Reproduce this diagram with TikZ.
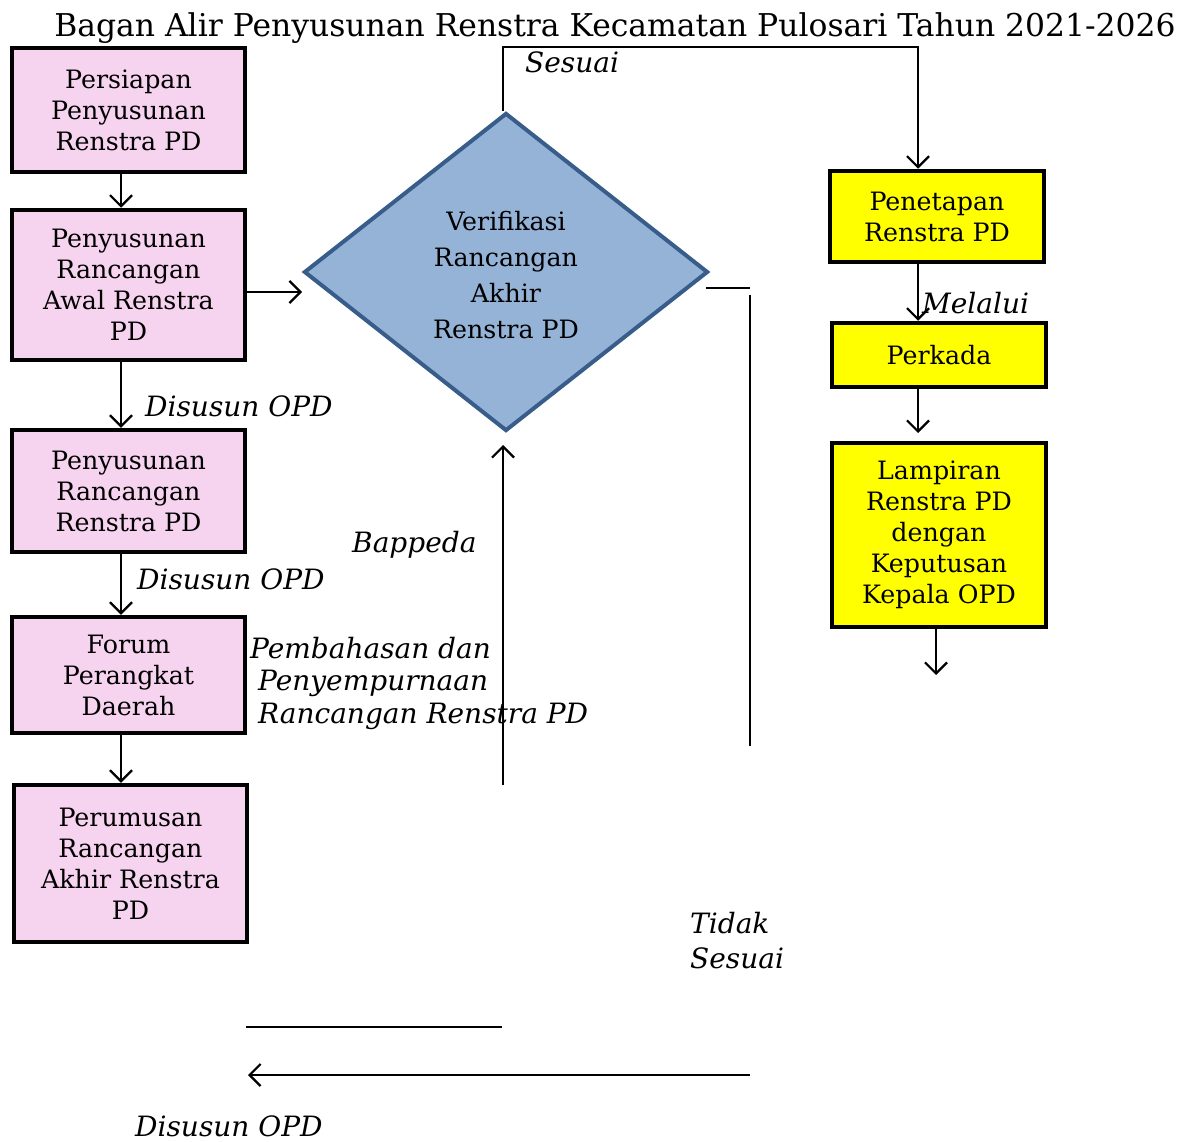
\documentclass[tikz,border=0pt]{standalone}
\usepackage{fontspec}
\setmainfont{DejaVu Serif}
\usetikzlibrary{arrows.meta,shapes.geometric}
\definecolor{pinkfill}{HTML}{F6D3EE}
\definecolor{diafill}{HTML}{95B3D7}
\definecolor{diaedge}{HTML}{385D8A}
\definecolor{yel}{HTML}{FFFF00}
\tikzset{
  pinkbox/.style={draw=black,line width=4.5pt,fill=pinkfill,inner sep=0pt,align=center,font=\fontsize{25.3}{31}\selectfont},
  yelbox/.style={draw=black,line width=4.5pt,fill=yel,inner sep=0pt,align=center,font=\fontsize{25.3}{31}\selectfont},
  lbl/.style={font=\fontsize{28}{35}\selectfont\itshape,inner sep=0pt,anchor=west,align=left},
  conn/.style={line width=2.2pt,-{Straight Barb[length=11pt,width=22pt,line width=2.2pt]}},
  plain/.style={line width=2.2pt}
}
\begin{document}
\begin{tikzpicture}[x=1pt,y=-1pt]
\useasboundingbox (0,0) rectangle (1184,1142);
\node[inner sep=0pt,font=\fontsize{31.4}{36}\selectfont] (title) at (615,28) {Bagan Alir Penyusunan Renstra Kecamatan Pulosari Tahun 2021-2026};
% pink boxes
\node[pinkbox,minimum width=233pt,minimum height=124pt] (b1) at (128.5,110) {Persiapan\\Penyusunan\\Renstra PD};
\node[pinkbox,minimum width=233pt,minimum height=150pt] (b2) at (128.5,285) {Penyusunan\\Rancangan\\Awal Renstra\\PD};
\node[pinkbox,minimum width=233pt,minimum height=122pt] (b3) at (128.5,491) {Penyusunan\\Rancangan\\Renstra PD};
\node[pinkbox,minimum width=233pt,minimum height=116pt] (b4) at (128.5,675) {Forum\\Perangkat\\Daerah};
\node[pinkbox,minimum width=233pt,minimum height=157pt] (b5) at (130.5,863.5) {Perumusan\\Rancangan\\Akhir Renstra\\PD};
% diamond
\node[diamond,draw=diaedge,fill=diafill,line width=4pt,minimum width=404pt,minimum height=318pt,inner sep=0pt,aspect=1.27] (d) at (506,272) {};
\node[align=center,inner sep=0pt,font=\fontsize{25.3}{36}\selectfont] (dt) at (506,275) {Verifikasi\\Rancangan\\Akhir\\Renstra PD};
% yellow boxes
\node[yelbox,minimum width=214pt,minimum height=91pt] (y1) at (937,216.5) {Penetapan\\Renstra PD};
\node[yelbox,minimum width=214pt,minimum height=64pt] (y2) at (939,355) {Perkada};
\node[yelbox,minimum width=214pt,minimum height=184pt] (y3) at (939,535) {Lampiran\\Renstra PD\\dengan\\Keputusan\\Kepala OPD};
% coordinates
\coordinate (top1) at (503,47);
\coordinate (top2) at (918,47);
\coordinate (y1in) at (918,170);
\coordinate (y2in) at (918,322);
\coordinate (y3in) at (918,433);
\coordinate (y3out) at (936,675);
\coordinate (rA) at (706,288);
\coordinate (rB) at (750,288);
\coordinate (vA) at (750,295);
\coordinate (vB) at (750,746);
\coordinate (hA) at (750,1075);
\coordinate (hB) at (248,1075);
\coordinate (h2A) at (246,1027);
\coordinate (h2B) at (502,1027);
\coordinate (upA) at (503,785);
\coordinate (upB) at (503,445);
% connectors
\draw[conn] (b1.south -| 121,0) -- (b2.north -| 121,0);
\draw[conn] (b2.south -| 121,0) -- (b3.north -| 121,0);
\draw[conn] (b3.south -| 121,0) -- (b4.north -| 121,0);
\draw[conn] (b4.south -| 121,0) -- (b5.north -| 121,0);
\draw[conn] (b2.east |- 0,292) -- (d.west |- 0,292);
\draw[conn] (d.north -| top1) -- (top1) -- (top2) -- (y1.north -| y1in);
\draw[conn] (y1.south -| y1in) -- (y2.north -| y2in);
\draw[conn] (y2.south -| y3in) -- (y3in);
\draw[conn] (y3.south -| y3out) -- (y3out);
\draw[plain] (rA) -- (rB);
\draw[plain] (vA) -- (vB);
\draw[conn] (hA) -- (hB);
\draw[plain] (h2A) -- (h2B);
\draw[conn] (upA) -- (upB);
% labels
\node[lbl] (l1) at (525,62) {Sesuai};
\node[lbl] (l2) at (145,406) {Disusun OPD};
\node[lbl] (l3) at (137,579) {Disusun OPD};
\node[lbl] (l4) at (135,1126) {Disusun OPD};
\node[lbl] (l5) at (352,545) {Bappeda};
\node[lbl] (l6) at (922,303) {Melalui};
\node[lbl] (l7) at (250,648) {Pembahasan dan};
\node[lbl] (l8) at (258,683) {Penyempurnaan};
\node[lbl] (l9) at (258,716) {Rancangan Renstra PD};
\node[lbl] (l10) at (690,923) {Tidak};
\node[lbl] (l11) at (690,958) {Sesuai};
\end{tikzpicture}
\end{document}
